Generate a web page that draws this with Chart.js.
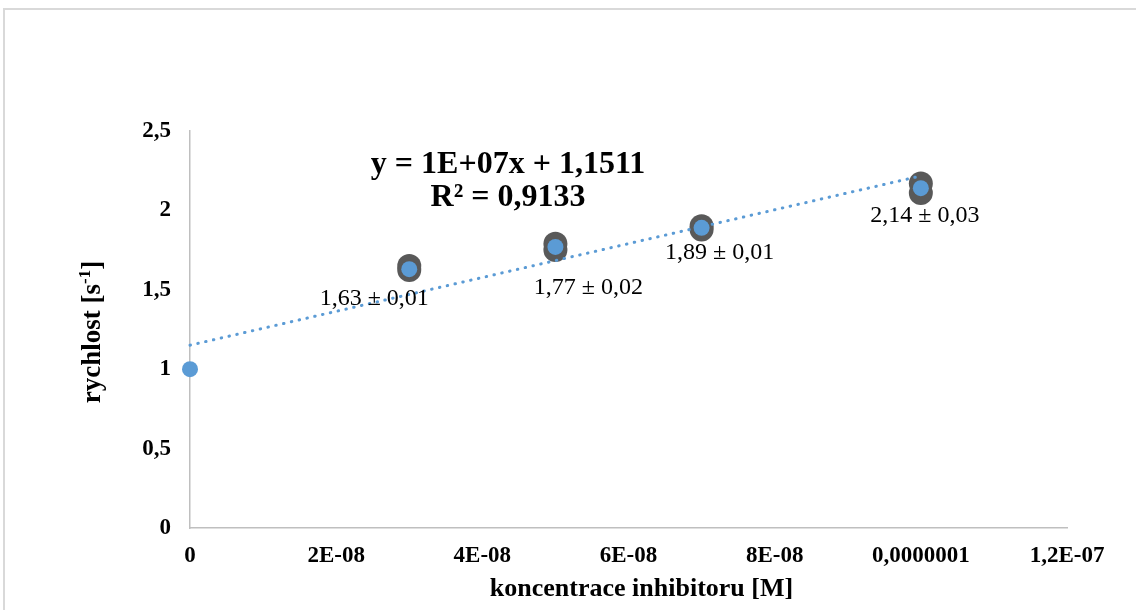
<!DOCTYPE html>
<html>
<head>
<meta charset="utf-8">
<script src="https://cdn.jsdelivr.net/npm/chart.js@4.4.0/dist/chart.umd.min.js"></script>
<style>
  html, body { margin: 0; padding: 0; background: #ffffff; }
  #wrap { position: relative; width: 1136px; height: 610px; }
  canvas { display: block; }
</style>
</head>
<body>
<div id="wrap"><canvas id="rateChart" width="1136" height="610"></canvas></div>
<script>
// Inhibitor concentration [M] and mean reaction rate [s^-1]
const concentrations = [0, 3e-8, 5e-8, 7e-8, 1e-7];
const rateMeans      = [1, 1.63, 1.77, 1.89, 2.14];
const rateErrors     = [null, 0.01, 0.02, 0.01, 0.03];

// Individual replicate measurements
const replicateConc  = [3e-8, 3e-8, 5e-8, 5e-8, 7e-8, 7e-8, 1e-7, 1e-7];
const replicateRates = [1.625, 1.65, 1.75, 1.79, 1.88, 1.90, 2.11, 2.17];

// Linear trendline end points
const trendConc  = [0, 1e-7];
const trendRates = [1.1511, 2.217];

// Axis ticks
const xTickValues = [0, 2e-8, 4e-8, 6e-8, 8e-8, 1e-7, 1.2e-7];
const xTickLabels = ['0', '2E-08', '4E-08', '6E-08', '8E-08', '0,0000001', '1,2E-07'];
const yTickValues = [0, 0.5, 1, 1.5, 2, 2.5];
const yTickLabels = ['0', '0,5', '1', '1,5', '2', '2,5'];

// Trendline equation text
const equationLines = ['y = 1E+07x + 1,1511', 'R\u00B2 = 0,9133'];

const SERIF = '"Liberation Serif", "Times New Roman", serif';
const BLUE = '#5b9bd5';
const GREY = '#595959';
const AXIS = '#bfbfbf';

// pixel offsets of each "mean ± error" label relative to its marker
const labelOffsets = [null, [-35, 36], [33, 47], [18, 31], [4, 34]];

const fmt = v => v.toFixed(2).replace('.', ',');

const decorations = {
  id: 'decorations',
  beforeDraw(chart) {
    const ctx = chart.ctx;
    ctx.save();
    ctx.fillStyle = '#ffffff';
    ctx.fillRect(0, 0, chart.width, chart.height);
    ctx.strokeStyle = '#d9d9d9';
    ctx.lineWidth = 2;
    ctx.strokeRect(4, 9, chart.width + 40, chart.height + 40);
    ctx.restore();
  },
  afterDraw(chart) {
    const ctx = chart.ctx;
    const xs = chart.scales.x, ys = chart.scales.y;
    ctx.save();
    ctx.fillStyle = '#000000';

    // value labels
    ctx.font = '24px ' + SERIF;
    ctx.textAlign = 'center';
    ctx.textBaseline = 'alphabetic';
    concentrations.forEach((c, i) => {
      if (rateErrors[i] == null) return;
      const px = xs.getPixelForValue(c), py = ys.getPixelForValue(rateMeans[i]);
      const off = labelOffsets[i];
      ctx.fillText(fmt(rateMeans[i]) + ' \u00B1 ' + fmt(rateErrors[i]), px + off[0], py + off[1]);
    });

    // trendline equation
    ctx.font = 'bold 32px ' + SERIF;
    ctx.fillText(equationLines[0], 508, 173);
    ctx.fillText(equationLines[1], 508, 206);

    // x axis title
    ctx.font = 'bold 26px ' + SERIF;
    ctx.fillText('koncentrace inhibitoru [M]', (xs.left + xs.right) / 2 + 13, 596);

    // y axis title with superscript
    const main = 'rychlost [s', sup = '-1', tail = ']';
    const bigFont = 'bold 27px ' + SERIF, smallFont = 'bold 17px ' + SERIF;
    ctx.font = bigFont; const w1 = ctx.measureText(main).width, w3 = ctx.measureText(tail).width;
    ctx.font = smallFont; const w2 = ctx.measureText(sup).width;
    const total = w1 + w2 + w3;
    ctx.translate(100, 332);
    ctx.rotate(-Math.PI / 2);
    ctx.textAlign = 'left';
    let x0 = -total / 2;
    ctx.font = bigFont; ctx.fillText(main, x0, 0); x0 += w1;
    ctx.font = smallFont; ctx.fillText(sup, x0, -10); x0 += w2;
    ctx.font = bigFont; ctx.fillText(tail, x0, 0);
    ctx.restore();
  }
};

new Chart(document.getElementById('rateChart'), {
  type: 'scatter',
  data: {
    datasets: [
      {
        label: 'mean',
        data: concentrations.map((c, i) => ({ x: c, y: rateMeans[i] })),
        backgroundColor: BLUE,
        borderColor: BLUE,
        borderWidth: 0,
        pointRadius: 8,
        pointHoverRadius: 8
      },
      {
        label: 'trend',
        type: 'line',
        data: trendConc.map((c, i) => ({ x: c, y: trendRates[i] })),
        borderColor: BLUE,
        borderWidth: 3,
        borderDash: [0.5, 7.5],
        borderCapStyle: 'round',
        pointRadius: 0,
        fill: false,
        tension: 0
      },
      {
        label: 'replicates',
        data: replicateConc.map((c, i) => ({ x: c, y: replicateRates[i] })),
        backgroundColor: GREY,
        borderColor: GREY,
        borderWidth: 0,
        pointRadius: 12,
        pointHoverRadius: 12
      }
    ]
  },
  options: {
    responsive: false,
    animation: false,
    clip: false,
    layout: { padding: { top: 131, right: 69, left: 0, bottom: 0 } },
    plugins: { legend: { display: false }, tooltip: { enabled: false } },
    scales: {
      x: {
        type: 'linear',
        min: 0,
        max: 1.2e-7,
        grid: { display: false, drawTicks: false },
        border: { display: true, color: AXIS, width: 1.5 },
        afterBuildTicks: s => { s.ticks = xTickValues.map(v => ({ value: v })); },
        afterFit: s => { s.height = 82; },
        ticks: {
          padding: 14,
          autoSkip: false,
          maxRotation: 0,
          color: '#000000',
          font: { family: SERIF, size: 23, weight: 'bold' },
          callback: (v, i) => xTickLabels[i]
        }
      },
      y: {
        type: 'linear',
        min: 0,
        max: 2.5,
        grid: { display: false, drawTicks: false },
        border: { display: true, color: AXIS, width: 1.5 },
        afterBuildTicks: s => { s.ticks = yTickValues.map(v => ({ value: v })); },
        afterFit: s => { s.width = 190; },
        ticks: {
          padding: 19,
          color: '#000000',
          font: { family: SERIF, size: 23, weight: 'bold' },
          callback: (v, i) => yTickLabels[i]
        }
      }
    }
  },
  plugins: [decorations]
});
</script>
</body>
</html>
